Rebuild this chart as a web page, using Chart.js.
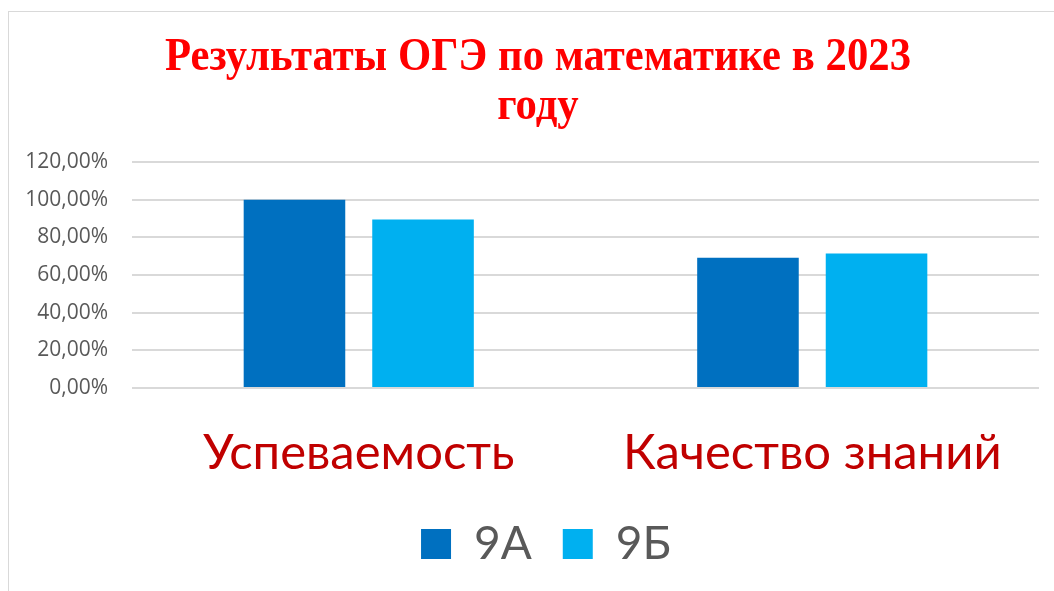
<!DOCTYPE html>
<html lang="ru">
<head>
<meta charset="utf-8">
<script src="https://cdn.jsdelivr.net/npm/chart.js@4/dist/chart.umd.min.js"></script>
<style>
  body { margin: 0; background: #fff; }
  .frame {
    position: absolute; left: 8px; top: 11px; width: 1100px; height: 600px;
    border: 1.5px solid #d9d9d9; box-sizing: border-box;
  }
  .wrap { position: absolute; left: 0; top: 0; width: 1054px; height: 591px; }
</style>
</head>
<body>
<div class="frame"></div>
<div class="wrap"><canvas id="resultChart" width="1054" height="591"></canvas></div>
<script>
// Данные диаграммы
const categories = ["Успеваемость", "Качество знаний"];
const class9A = [1.0, 0.692];
const class9B = [0.8947, 0.7143];
const seriesNames = ["9А", "9Б"];
const titleLines = ["Результаты ОГЭ по математике в 2023", "году"];

// Заголовок рисуем сами: шрифт в оригинале сжат по горизонтали
const titlePlugin = {
  id: "squeezedTitle",
  beforeDraw(chart) {
    // легенда в оригинале чуть смещена вправо
    chart.legend.left = 53;
  },
  afterDraw(chart) {
    const ctx = chart.ctx;
    const cx = chart.width / 2 + 11;
    const baselines = [70, 119];
    ctx.save();
    ctx.font = "bold 47px 'Liberation Serif', serif";
    ctx.fillStyle = "#ff0000";
    ctx.textAlign = "center";
    ctx.textBaseline = "alphabetic";
    const w = ctx.measureText(titleLines[0]).width;
    const k = 746 / w;
    titleLines.forEach((line, i) => {
      ctx.save();
      ctx.translate(cx, baselines[i]);
      ctx.scale(k, 1);
      ctx.fillText(line, 0, 0);
      ctx.restore();
    });
    ctx.restore();
  },
};

const chart = new Chart(document.getElementById("resultChart"), {
  type: "bar",
  data: {
    labels: categories,
    datasets: [
      { label: seriesNames[0], data: class9A, backgroundColor: "#0070c0" },
      { label: seriesNames[1], data: class9B, backgroundColor: "#00b0f0" },
    ],
  },
  plugins: [titlePlugin],
  options: {
    responsive: false,
    animation: false,
    categoryPercentage: 0.567,
    barPercentage: 0.79,
    layout: { padding: { left: 0, right: 15, top: 162, bottom: 14 } },
    plugins: {
      title: { display: false },
      legend: {
        position: "bottom",
        labels: {
          color: "#595959",
          font: { family: "Lato, 'Open Sans', sans-serif", size: 46 },
          boxWidth: 30,
          boxHeight: 30,
          padding: 31,
        },
      },
      tooltip: { enabled: false },
    },
    scales: {
      x: {
        afterFit: (scale) => { scale.height = 102; },
        grid: { display: false, drawTicks: false },
        border: { display: false },
        ticks: {
          color: "#c00000",
          font: { family: "Lato, 'Open Sans', sans-serif", size: 49 },
          padding: 36,
          maxRotation: 0,
        },
      },
      y: {
        min: 0,
        max: 1.2,
        afterFit: (scale) => { scale.width = 132; },
        grid: { color: "#d9d9d9", lineWidth: 2, drawTicks: false },
        border: { display: false },
        ticks: {
          stepSize: 0.2,
          padding: 24,
          color: "#595959",
          font: { family: "'Open Sans', sans-serif", size: 21 },
          callback: (v) => (v * 100).toFixed(2).replace(".", ",") + "%",
        },
      },
    },
  },
});
</script>
</body>
</html>
